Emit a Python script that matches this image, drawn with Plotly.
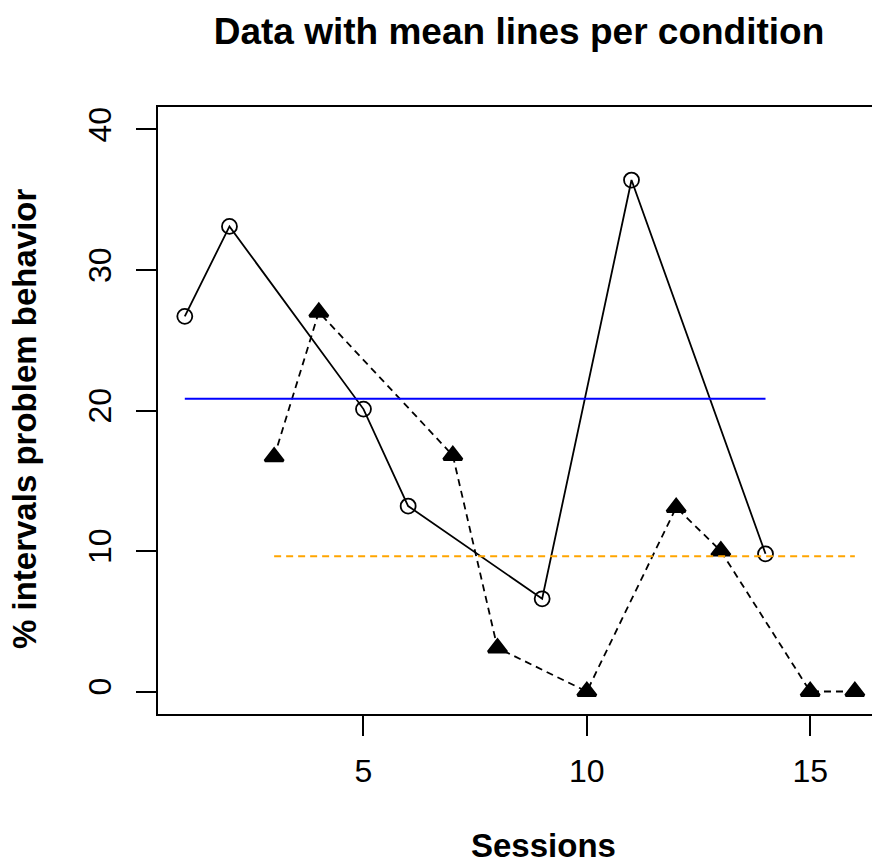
import plotly.graph_objects as go

# Session numbers and % of intervals with problem behavior, per condition
sessions_a = [1, 2, 5, 6, 9, 11, 14]
values_a = [26.7, 33.1, 20.1, 13.2, 6.6, 36.4, 9.8]

sessions_b = [3, 4, 7, 8, 10, 12, 13, 15, 16]
values_b = [16.7, 27.0, 16.8, 3.1, 0.0, 13.1, 10.0, 0.0, 0.0]

x_ticks = [5, 10, 15]
y_ticks = [0, 10, 20, 30, 40]

mean_a = sum(values_a) / len(values_a)
mean_b = sum(values_b) / len(values_b)

W, H = 872, 863
L, R, T, B = 158, 0, 107, 149
PX_PER_X = 44.67

FONT = "Liberation Sans, Arial, Helvetica, sans-serif"
TICK_SIZE = 32
LABEL_SIZE = 33
TITLE_SIZE = 37

x_min = 0.4
x_max = x_min + (W - L - R) / PX_PER_X


def px_x(px):
    return (px - L) / (W - L - R)


def px_y(py):
    return (H - B - py) / (H - T - B)


fig = go.Figure()

# condition A: open circles joined by a solid line
fig.add_trace(go.Scatter(
    x=sessions_a, y=values_a, mode="lines+markers",
    line=dict(color="black", width=1.8),
    marker=dict(symbol="circle-open", size=15, color="black", line=dict(width=1.8)),
    showlegend=False,
))

# condition B: filled triangles joined by a dashed line
fig.add_trace(go.Scatter(
    x=sessions_b, y=values_b, mode="lines+markers",
    line=dict(color="black", width=1.8, dash="7px,5px"),
    marker=dict(symbol="triangle-up", size=16, color="black", line=dict(color="black", width=3)),
    showlegend=False,
))

# mean lines for each condition across its own session span
fig.add_trace(go.Scatter(
    x=[min(sessions_a), max(sessions_a)], y=[mean_a, mean_a], mode="lines",
    line=dict(color="#0000FF", width=2), showlegend=False,
))
fig.add_trace(go.Scatter(
    x=[min(sessions_b), max(sessions_b)], y=[mean_b, mean_b], mode="lines",
    line=dict(color="#FFA500", width=2, dash="7px,5px"), showlegend=False,
))

fig.update_layout(
    width=W, height=H,
    margin=dict(l=L, r=R, t=T, b=B, autoexpand=False),
    paper_bgcolor="white", plot_bgcolor="white",
    font=dict(family=FONT, color="black"),
    title=dict(
        text="<b>Data with mean lines per condition</b>",
        font=dict(size=TITLE_SIZE, family=FONT, color="black"),
        xref="container", yref="container",
        x=519 / W, xanchor="center",
        y=1 - 31 / H, yanchor="middle",
    ),
    xaxis=dict(
        range=[x_min, x_max], tickvals=x_ticks, ticktext=[str(v) for v in x_ticks],
        showgrid=False, zeroline=False,
        showline=True, mirror=True, linecolor="black", linewidth=2,
        ticks="outside", ticklen=20, tickwidth=2, tickcolor="black",
        tickfont=dict(size=TICK_SIZE, family=FONT, color="black"),
        ticklabelstandoff=8,
    ),
    yaxis=dict(
        range=[-1.6, 41.6], tickvals=y_ticks, ticktext=[str(v) for v in y_ticks],
        showgrid=False, zeroline=False,
        showline=True, mirror=False, linecolor="black", linewidth=2,
        ticks="outside", ticklen=20, tickwidth=2, tickcolor="black",
        tickangle=-90,
        tickfont=dict(size=TICK_SIZE, family=FONT, color="black"),
        ticklabelstandoff=12,
    ),
    annotations=[
        dict(text="<b>Sessions</b>", x=px_x(543), y=px_y(845),
             xref="paper", yref="paper", xanchor="center", yanchor="middle",
             showarrow=False, font=dict(size=LABEL_SIZE, family=FONT, color="black")),
        dict(text="<b>% intervals problem behavior</b>", x=px_x(24), y=px_y(419),
             xref="paper", yref="paper", xanchor="center", yanchor="middle",
             textangle=-90, showarrow=False,
             font=dict(size=LABEL_SIZE, family=FONT, color="black")),
    ],
)

fig.write_html("out.html")
